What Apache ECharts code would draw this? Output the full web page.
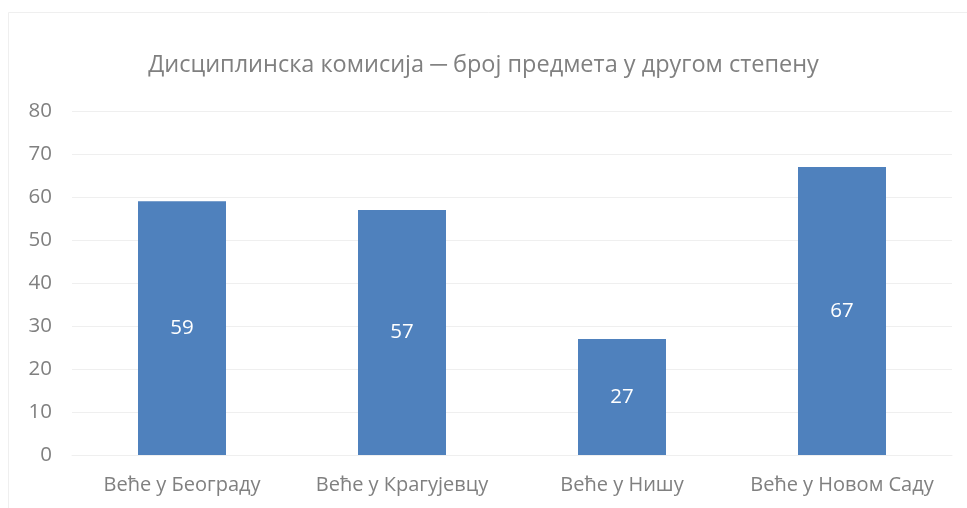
<!DOCTYPE html>
<html><head><meta charset="utf-8">
<script src="https://cdn.jsdelivr.net/npm/echarts@6/dist/echarts.min.js"></script>
<style>html,body{margin:0;padding:0;background:#fff}#c{width:967px;height:508px}</style>
</head><body><div id="c"></div>
<script>
const titleText = 'Дисциплинска комисија ─ број предмета у другом степену';
const categories = ['Веће у Београду', 'Веће у Крагујевцу', 'Веће у Нишу', 'Веће у Новом Саду'];
const values = [59, 57, 27, 67];
const yTicks = { min: 0, max: 80, interval: 10 };

const chart = echarts.init(document.getElementById('c'));
const font = '"Open Sans", "Noto Sans", sans-serif';
chart.setOption({
  animation: false,
  backgroundColor: '#fff',
  graphic: [{ type: 'rect', shape: { x: 8.5, y: 12.5, width: 970, height: 500 }, style: { fill: 'none', stroke: '#efefef', lineWidth: 1 } }],
  title: { text: titleText, left: 'center', top: 48, textStyle: { fontFamily: font, fontSize: 23.5, fontWeight: 'normal', color: '#808080' } },
  grid: { left: 72, right: 15, top: 111, bottom: 53, containLabel: false },
  xAxis: {
    type: 'category', data: categories,
    axisLine: { show: true, lineStyle: { color: '#efefef' } }, axisTick: { show: false },
    axisLabel: { interval: 0, hideOverlap: false, fontFamily: font, fontSize: 20, color: '#808080', margin: 20 }
  },
  yAxis: {
    type: 'value', min: yTicks.min, max: yTicks.max, interval: yTicks.interval,
    axisLine: { show: false }, axisTick: { show: false },
    splitLine: { lineStyle: { color: '#efefef' } },
    axisLabel: { fontFamily: font, fontSize: 20.5, color: '#808080', margin: 20 }
  },
  series: [{
    type: 'bar', data: values, barWidth: '40%',
    itemStyle: { color: '#4F81BD' },
    label: { show: true, position: 'inside', color: '#fff', fontFamily: font, fontSize: 20.5 }
  }]
});
</script></body></html>
